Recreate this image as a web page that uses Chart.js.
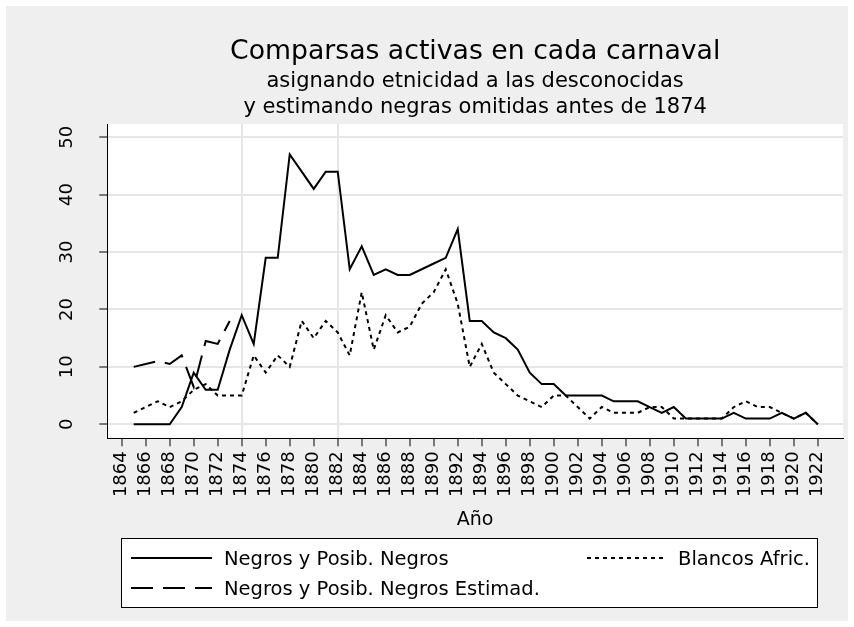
<!DOCTYPE html>
<html>
<head>
<meta charset="utf-8">
<script src="https://cdn.jsdelivr.net/npm/chart.js@4/dist/chart.umd.min.js"></script>
<style>
html,body{margin:0;padding:0;background:#ffffff;}
#wrap{width:854px;height:627px;position:relative;}
canvas{display:block;}
</style>
</head>
<body>
<div id="wrap"><canvas id="c" width="854" height="627"></canvas></div>
<script>
// ---- data ----
const years = [1865,1866,1867,1868,1869,1870,1871,1872,1873,1874,1875,1876,1877,1878,1879,1880,1881,1882,1883,1884,1885,1886,1887,1888,1889,1890,1891,1892,1893,1894,1895,1896,1897,1898,1899,1900,1901,1902,1903,1904,1905,1906,1907,1908,1909,1910,1911,1912,1913,1914,1915,1916,1917,1918,1919,1920,1921,1922];
const negros = [0,0,0,0,3,9,6,6,13,19,14,29,29,47,44,41,44,44,27,31,26,27,26,26,27,28,29,34,18,18,16,15,13,9,7,7,5,5,5,5,4,4,4,3,2,3,1,1,1,1,2,1,1,1,2,1,2,0];
const estimadYears = [1865,1866,1867,1868,1869,1870,1871,1872,1873];
const negrosEstimad = [10,10.5,11,10.5,12,6.5,14.5,14,18];
const blancos = [2,3,4,3,4,6,7,5,5,5,12,9,12,10,18,15,18,16,12,23,13,19,16,17,21,23,27,21,10,14,9,7,5,4,3,5,5,3,1,3,2,2,2,3,3,1,1,1,1,1,3,4,3,3,2,1,2,0];
const xTicks = [1864,1866,1868,1870,1872,1874,1876,1878,1880,1882,1884,1886,1888,1890,1892,1894,1896,1898,1900,1902,1904,1906,1908,1910,1912,1914,1916,1918,1920,1922];
const yTicks = [0,10,20,30,40,50];
const xLines = [1874,1882];
const seriesNames = ['Negros y Posib. Negros','Negros y Posib. Negros Estimad.','Blancos Afric.'];
const titleText = 'Comparsas activas en cada carnaval';
const subtitleLines = ['asignando etnicidad a las desconocidas','y estimando negras omitidas antes de 1874'];
const xTitle = 'Año';

const FONT = "'DejaVu Sans', 'Liberation Sans', sans-serif";
Chart.defaults.font.family = FONT;
Chart.defaults.color = '#000';

const toXY = (xs, vs) => xs.map((x, i) => ({x: x, y: vs[i]}));

const deco = {
  id: 'deco',
  beforeDraw(chart) {
    const {ctx, chartArea: a} = chart;
    ctx.save();
    ctx.fillStyle = '#ffffff';
    ctx.fillRect(0, 0, 854, 627);
    ctx.fillStyle = '#efefef';
    ctx.fillRect(6, 6, 842, 615);
    ctx.fillStyle = '#ffffff';
    ctx.fillRect(a.left, a.top, a.right - a.left, a.bottom - a.top);
    ctx.restore();
  },
  afterDraw(chart) {
    const {ctx, chartArea: a} = chart;
    const ys = chart.scales.y;
    ctx.save();
    ctx.fillStyle = '#000';
    ctx.textAlign = 'center';
    ctx.textBaseline = 'alphabetic';
    const cx = (a.left + a.right) / 2;
    ctx.font = "26.7px " + FONT;
    ctx.fillText(titleText, cx, 59);
    ctx.font = "21px " + FONT;
    ctx.fillText(subtitleLines[0], cx, 86.5);
    ctx.fillText(subtitleLines[1], cx, 113);

    // rotated y tick labels
    ctx.font = "18px " + FONT;
    yTicks.forEach(v => {
      const y = ys.getPixelForValue(v);
      ctx.save();
      ctx.translate(71.5, y);
      ctx.rotate(-Math.PI / 2);
      ctx.fillText(String(v), 0, 0);
      ctx.restore();
    });

    // legend
    const bx = 121.5, by = 538.5, bw = 696, bh = 69;
    ctx.fillStyle = '#ffffff';
    ctx.fillRect(bx, by, bw, bh);
    ctx.strokeStyle = '#000';
    ctx.lineWidth = 1;
    ctx.strokeRect(bx, by, bw, bh);
    const items = [
      {dash: [], x1: 131, x2: 212, y: 558, tx: 224, ty: 565, name: seriesNames[0]},
      {dash: [22, 10], x1: 131, x2: 212, y: 588, tx: 224, ty: 595, name: seriesNames[1]},
      {dash: [4, 4], x1: 587, x2: 667, y: 558, tx: 678, ty: 565, name: seriesNames[2]}
    ];
    ctx.font = "19.5px " + FONT;
    ctx.textAlign = 'left';
    items.forEach(it => {
      ctx.beginPath();
      ctx.setLineDash(it.dash);
      ctx.lineWidth = 2;
      ctx.strokeStyle = '#000';
      ctx.moveTo(it.x1, it.y);
      ctx.lineTo(it.x2, it.y);
      ctx.stroke();
      ctx.setLineDash([]);
      ctx.fillStyle = '#000';
      ctx.fillText(it.name, it.tx, it.ty);
    });
    ctx.restore();
  }
};

const lineStyle = {borderColor: '#000', backgroundColor: '#000', borderWidth: 2, pointRadius: 0, tension: 0, fill: false, spanGaps: false};

new Chart(document.getElementById('c'), {
  type: 'line',
  data: {
    datasets: [
      Object.assign({label: seriesNames[0], data: toXY(years, negros)}, lineStyle),
      Object.assign({label: seriesNames[1], data: toXY(estimadYears, negrosEstimad), borderDash: [22, 10]}, lineStyle),
      Object.assign({label: seriesNames[2], data: toXY(years, blancos), borderDash: [4, 4]}, lineStyle)
    ]
  },
  options: {
    responsive: false,
    animation: false,
    devicePixelRatio: 1,
    layout: {padding: {left: 67, right: 11, top: 124, bottom: 96}},
    plugins: {legend: {display: false}, tooltip: {enabled: false}, title: {display: false}},
    scales: {
      x: {
        type: 'linear',
        min: 1862.8,
        max: 1924.1,
        afterBuildTicks: s => { s.ticks = xTicks.map(v => ({value: v})); },
        afterFit: s => { s.height = 92.7; },
        ticks: {
          autoSkip: false,
          minRotation: 90,
          maxRotation: 90,
          padding: 5,
          font: {size: 18, family: FONT},
          color: '#000',
          callback: v => String(v)
        },
        grid: {
          drawOnChartArea: true,
          color: c => (c.tick && xLines.includes(c.tick.value)) ? '#e6e6e6' : 'rgba(0,0,0,0)',
          lineWidth: 2,
          tickColor: '#000',
          tickWidth: 1,
          tickLength: 8
        },
        border: {display: true, color: '#000', width: 1},
        title: {display: true, text: xTitle, font: {size: 19, family: FONT}, color: '#000', padding: {top: 0, bottom: 0}}
      },
      y: {
        type: 'linear',
        min: -2.44,
        max: 52.3,
        afterBuildTicks: s => { s.ticks = yTicks.map(v => ({value: v})); },
        afterFit: s => { s.width = 40.3; },
        ticks: {display: false},
        grid: {
          color: '#e6e6e6',
          lineWidth: 2,
          tickColor: '#000',
          tickWidth: 1,
          tickLength: 8
        },
        border: {display: true, color: '#000', width: 1}
      }
    }
  },
  plugins: [deco]
});
</script>
</body>
</html>
